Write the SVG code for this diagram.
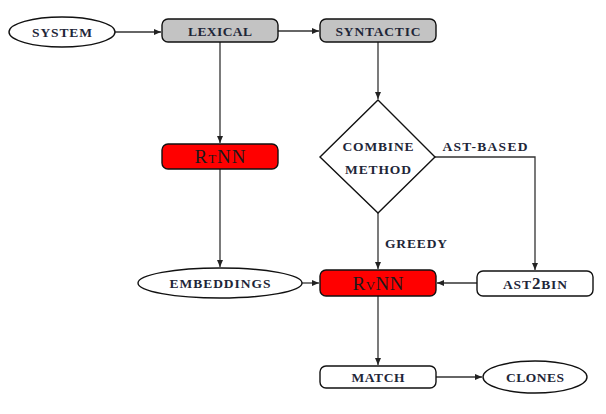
<svg xmlns="http://www.w3.org/2000/svg" width="606" height="414" viewBox="0 0 606 414">
<style>
.box{stroke:#111;stroke-width:1.4}
.gray{fill:#c3c3c3}
.red{fill:#ff0000}
.white{fill:#fff}
.t{font-family:"Liberation Serif","DejaVu Serif",serif;font-weight:bold;font-size:13.5px;fill:#1e2638;text-anchor:middle}
.big{font-family:"Liberation Serif","DejaVu Serif",serif;font-size:19px;fill:#1a1a1a;text-anchor:middle;font-variant:small-caps}
.c{fill:none;stroke:#333;stroke-width:1.3}
</style>
<defs>
<marker id="ah" markerWidth="7" markerHeight="6" refX="7" refY="3" orient="auto" markerUnits="userSpaceOnUse">
<path d="M0,0 L7,3 L0,6 z" fill="#222"/>
</marker>
</defs>
<rect width="606" height="414" fill="#fff"/>
<g id="connectors">
<line class="c" x1="115" y1="32" x2="161" y2="32" marker-end="url(#ah)"/>
<line class="c" x1="278" y1="31" x2="319" y2="31" marker-end="url(#ah)"/>
<line class="c" x1="378" y1="42" x2="378" y2="99" marker-end="url(#ah)"/>
<line class="c" x1="220" y1="42" x2="220" y2="143" marker-end="url(#ah)"/>
<line class="c" x1="220" y1="169" x2="220" y2="267" marker-end="url(#ah)"/>
<line class="c" x1="378" y1="213" x2="378" y2="269" marker-end="url(#ah)"/>
<polyline class="c" points="435,157 535,157 535,270" marker-end="url(#ah)"/>
<line class="c" x1="302" y1="283" x2="319" y2="283" marker-end="url(#ah)"/>
<line class="c" x1="477" y1="283" x2="437" y2="283" marker-end="url(#ah)"/>
<line class="c" x1="378" y1="296" x2="378" y2="365" marker-end="url(#ah)"/>
<line class="c" x1="436" y1="377" x2="482" y2="377" marker-end="url(#ah)"/>
<text class="t" x="485" y="151" textLength="85" lengthAdjust="spacing">AST-BASED</text>
<text class="t" x="416" y="248" textLength="62" lengthAdjust="spacing">GREEDY</text>
</g>
<g id="system">
<ellipse class="box white" cx="62" cy="32" rx="53" ry="15"/>
<text class="t" x="62" y="37" textLength="60" lengthAdjust="spacing">SYSTEM</text>
</g>
<g id="lexical">
<rect class="box gray" x="162" y="19" width="116" height="23" rx="6"/>
<text class="t" x="220" y="36" textLength="64" lengthAdjust="spacing">LEXICAL</text>
</g>
<g id="syntactic">
<rect class="box gray" x="320" y="19" width="116" height="23" rx="6"/>
<text class="t" x="378" y="36" textLength="85" lengthAdjust="spacing">SYNTACTIC</text>
</g>
<g id="combine">
<polygon class="box white" points="378,100 435,157 378,213 320,157"/>
<text class="t" x="378" y="151" textLength="71" lengthAdjust="spacing">COMBINE</text>
<text class="t" x="378" y="174" textLength="66" lengthAdjust="spacing">METHOD</text>
</g>
<g id="rtnn">
<rect class="box red" x="162" y="144" width="116" height="25" rx="6"/>
<text class="big" x="220" y="163" textLength="51" lengthAdjust="spacing">RtNN</text>
</g>
<g id="embeddings">
<ellipse class="box white" cx="220" cy="283" rx="82" ry="15"/>
<text class="t" x="220" y="288" textLength="101" lengthAdjust="spacing">EMBEDDINGS</text>
</g>
<g id="rvnn">
<rect class="box red" x="320" y="270" width="116" height="26" rx="6"/>
<text class="big" x="378" y="290" textLength="51" lengthAdjust="spacing">RvNN</text>
</g>
<g id="ast2bin">
<rect class="box white" x="477" y="271" width="116" height="25" rx="6"/>
<text class="t" x="535" y="289" textLength="64" lengthAdjust="spacing">AST<tspan font-size="17">2</tspan>BIN</text>
</g>
<g id="match">
<rect class="box white" x="320" y="366" width="116" height="22" rx="6"/>
<text class="t" x="378" y="382" textLength="53" lengthAdjust="spacing">MATCH</text>
</g>
<g id="clones">
<ellipse class="box white" cx="535" cy="377" rx="52" ry="16"/>
<text class="t" x="535" y="382" textLength="58" lengthAdjust="spacing">CLONES</text>
</g>
</svg>
